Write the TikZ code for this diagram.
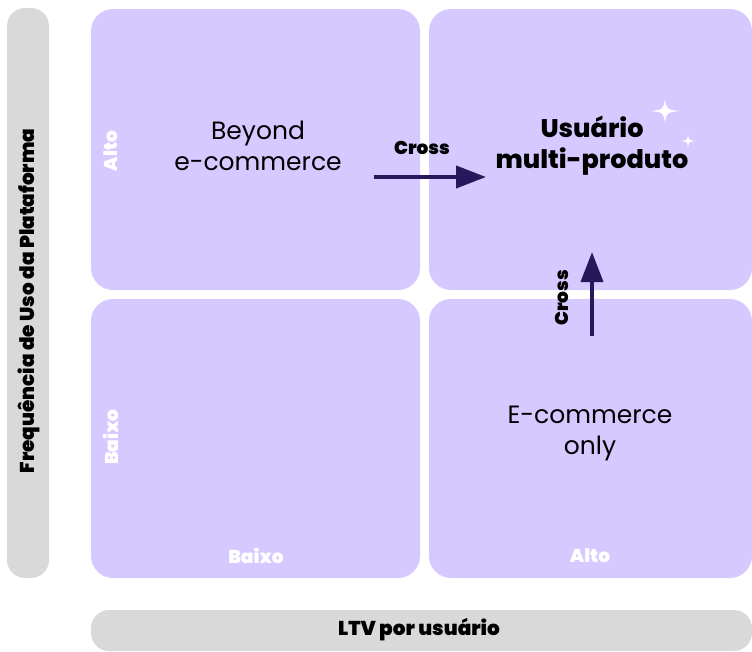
\documentclass[tikz,border=0pt]{standalone}
\usepackage{fontspec}
\setmainfont{Poppins}
\newfontfamily\heavy{Poppins Black}
\newfontfamily\xbold{Poppins ExtraBold}
\usetikzlibrary{arrows.meta}
\definecolor{lav}{RGB}{214,201,255}
\definecolor{axisgray}{RGB}{217,217,217}
\definecolor{arrowdark}{RGB}{38,24,90}
\tikzset{
  quad/.style={fill=lav, rounded corners=22pt, inner sep=0pt},
  bar/.style={fill=axisgray, rounded corners=18pt, inner sep=0pt},
  big/.style={font=\fontsize{25}{31}\selectfont, align=center, text=black},
  bigbold/.style={font=\fontsize{25.5}{31}\selectfont\xbold, align=center, text=black},
  lvl/.style={font=\fontsize{18.5}{20}\selectfont\heavy, text=white},
  axislbl/.style={font=\fontsize{20}{22}\selectfont\heavy, text=black},
  crosslbl/.style={font=\fontsize{18.5}{20}\selectfont\heavy, text=black},
  flow/.style={draw=arrowdark, line width=4pt, -{Triangle[length=30pt,width=22pt]}},
}
\begin{document}
\begin{tikzpicture}[x=1pt,y=-1pt]
\useasboundingbox (0,0) rectangle (752,651);
% axis bars
\node[bar, minimum width=42pt, minimum height=570pt] (ybar) at (28,293) {};
\node[bar, minimum width=661pt, minimum height=41pt] (xbar) at (421.5,630.5) {};
\node[axislbl, rotate=90] (ylbl) at (29,301) {Frequência de Uso da Plataforma};
\node[axislbl] (xlbl) at (419,630) {LTV por usuário};
% quadrants
\node[quad, minimum width=329pt, minimum height=281pt] (tl) at (255.5,149.5) {};
\node[quad, minimum width=323pt, minimum height=281pt] (tr) at (590.5,149.5) {};
\node[quad, minimum width=329pt, minimum height=279pt] (bl) at (255.5,438.5) {};
\node[quad, minimum width=323pt, minimum height=279pt] (br) at (590.5,438.5) {};
% level labels
\node[lvl, rotate=90] (altoy) at (111,151) {Alto};
\node[lvl, rotate=90] (baixoy) at (111,437) {Baixo};
\node[lvl] (baixox) at (256,556) {Baixo};
\node[lvl] (altox) at (590,556) {Alto};
% quadrant texts
\node[big] (beyond) at (258,146) {Beyond\\e-commerce};
\node[bigbold] (multi) at (592,146) {Usuário\\multi-produto};
\node[big] (ecom) at (590,433) {E-commerce\\only};
% sparkles
\fill[white] (665,98.5) .. controls (666.5,109.5) .. (679.5,111) .. controls (666.5,112.5) .. (665,123.5) .. controls (663.5,112.5) .. (650.5,111) .. controls (663.5,109.5) .. (665,98.5) -- cycle;
\fill[white] (688,134) .. controls (688.8,140.2) .. (695,141) .. controls (688.8,141.8) .. (688,148) .. controls (687.2,141.8) .. (681,141) .. controls (687.2,140.2) .. (688,134) -- cycle;
% arrows
\coordinate (h1) at (374,177);
\coordinate (h2) at (486,177);
\draw[flow] (h1) -- (h2);
\node[crosslbl] (crossh) at (422,148) {Cross};
\coordinate (v1) at (592,336);
\coordinate (v2) at (592,252);
\draw[flow] (v1) -- (v2);
\node[crosslbl, rotate=90] (crossv) at (562,298) {Cross};
\end{tikzpicture}
\end{document}
